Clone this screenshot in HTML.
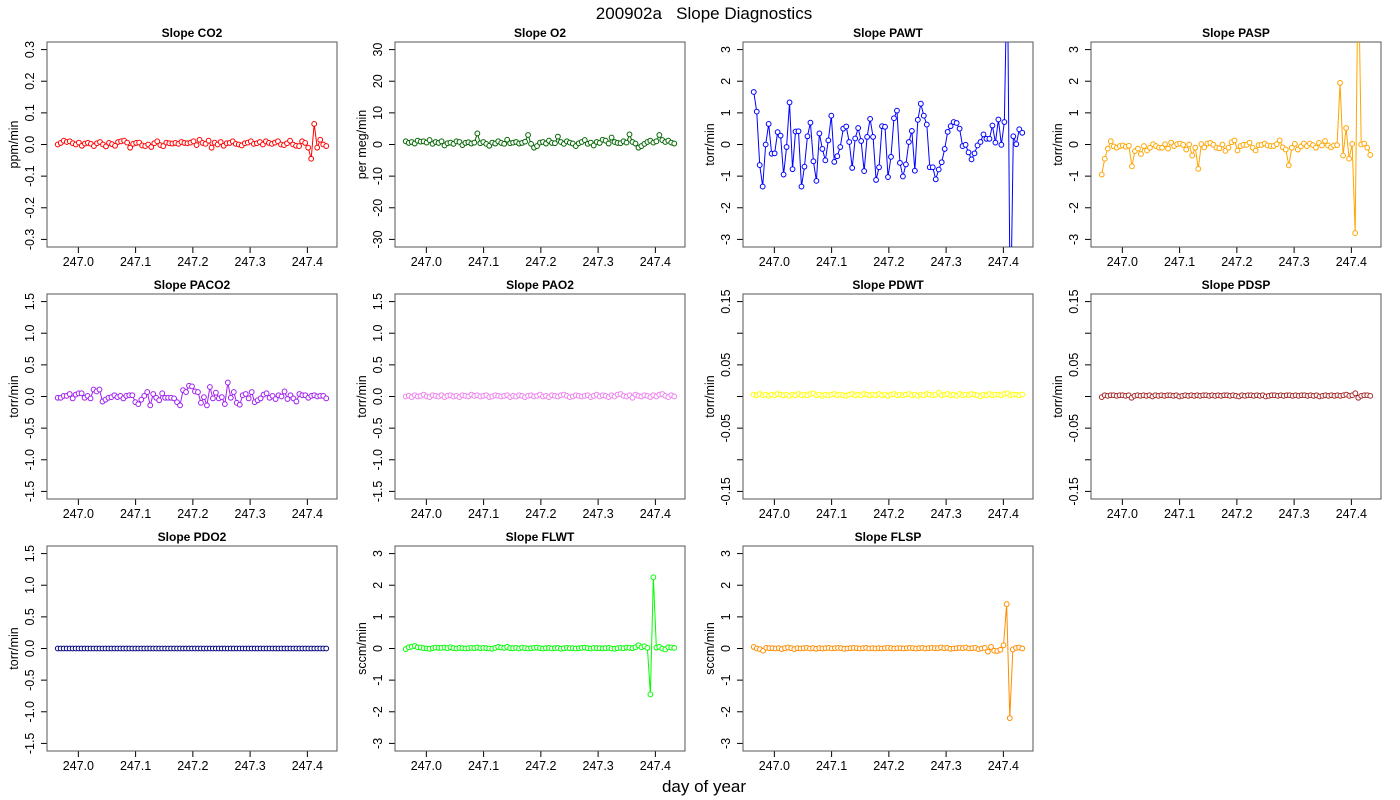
<!DOCTYPE html>
<html><head><meta charset="utf-8">
<style>
html,body{margin:0;padding:0;background:#fff;}
svg{display:block;font-family:"Liberation Sans",Arial,sans-serif;}
</style></head>
<body>
<svg id="fig" width="1400" height="800" viewBox="0 0 1400 800" xmlns="http://www.w3.org/2000/svg">
<text x="704" y="19" font-size="17" text-anchor="middle" xml:space="preserve">200902a   Slope Diagnostics</text>
<text x="704" y="792" font-size="17" text-anchor="middle">day of year</text>
</svg>
<script>
// ---- data ----
const tStart = 246.964;
const tEnd = 247.433;
const xTicks = [247.0, 247.1, 247.2, 247.3, 247.4];
const xTickLabels = ["247.0","247.1","247.2","247.3","247.4"];

const co2 = [0,0.005,0.012,0.008,0.01,0.004,0,0.006,-0.004,0.003,0.005,0.002,-0.005,0.004,0.008,0,-0.006,0.005,0.001,-0.004,0.008,0.01,0.012,0.006,-0.01,0.002,0.005,0.006,-0.003,-0.005,0,-0.008,0.004,0.01,-0.002,-0.005,0.006,0.004,0.003,0.005,0.002,0.008,0.005,0.004,0.006,0.01,-0.002,0.015,0.005,0.002,0.012,-0.01,0.006,0,0.008,-0.004,0.004,0.005,0.01,0.002,0,-0.003,0.004,0.006,0.01,0.002,0.004,0.008,0,0.01,0.005,0.002,0.006,0.01,0,-0.002,0.004,0.012,0,-0.004,-0.005,0.01,0.005,-0.01,-0.045,0.065,-0.01,0.015,0,-0.005];
const o2 = [1,0.5,0.8,0.3,1.2,0.9,1,0.6,1.4,0.2,0.8,0.5,1,-0.3,0.4,0.6,0.2,1,0.8,-0.2,0.5,0.7,0.3,0.6,3.5,0.4,0.8,0.2,-0.4,0.6,0.3,1,0.5,0.2,1.5,0.4,0.6,0.8,0.3,0.5,0.9,3,0.2,-1,-0.5,0.6,0.8,0.3,1.2,0.5,0.4,2.5,0.8,0.2,1,0.6,0.3,-0.5,0.4,0.8,1.4,0.2,0.6,-0.3,0.8,0.5,1.5,1.2,0.3,2.2,0.8,0.5,0.4,1,0.6,3.2,0.8,0.3,-1,-0.5,0.2,0.8,1.2,0.6,1,3,1.4,0.8,1.2,0.6,0.3];
const pawt = [1.66,1.04,-0.65,-1.33,0,0.65,-0.29,-0.28,0.39,0.28,-0.95,-0.08,1.33,-0.78,0.41,0.42,-1.33,-0.7,0.26,0.69,-0.53,-1.15,0.35,-0.14,-0.5,0.13,0.91,-0.55,-0.37,-0.08,0.5,0.57,0.08,-0.74,0.19,0.52,0.11,-0.84,0.24,0.81,0.24,-1.12,-0.72,0.58,0.56,-1.03,-0.39,0.83,1.07,-0.58,-1.01,-0.63,0.08,0.43,-0.83,0.78,1.29,0.91,0.63,-0.72,-0.72,-1.1,-0.79,-0.56,-0.14,0.4,0.58,0.71,0.68,0.5,-0.05,-0.01,-0.25,-0.47,-0.28,-0.03,0.08,0.32,0.18,0.18,0.6,0.06,0.79,-0.01,0.71,6,-6,0.26,0.01,0.48,0.37];
const pasp = [-0.95,-0.45,-0.13,0.1,-0.06,-0.1,-0.05,-0.03,-0.07,-0.04,-0.69,-0.21,-0.13,-0.3,-0.05,-0.19,-0.1,0.01,-0.05,-0.1,-0.1,0.01,-0.13,0.06,-0.05,0.01,0.03,-0.01,-0.16,0,-0.35,-0.1,-0.77,0.01,-0.09,0.03,0.05,-0.01,-0.1,-0.12,0,-0.2,-0.1,0.07,0.13,-0.19,-0.05,-0.01,-0.01,0.06,-0.1,-0.19,-0.02,-0.01,0.03,-0.03,-0.05,-0.05,0.01,0.13,-0.09,-0.16,-0.66,-0.1,0.02,-0.16,-0.06,0.03,-0.05,0.03,-0.02,-0.1,0.05,-0.03,0.11,-0.03,-0.09,-0.03,-0.02,1.95,-0.35,0.52,-0.45,0.02,-2.8,6,0.0,0.03,-0.1,-0.33];
const paco2 = [-0.02,-0.02,0.01,0.01,0.04,-0.03,0.03,0.05,0.05,-0.02,0.01,-0.03,0.11,0.08,0.11,-0.08,-0.05,-0.02,-0.01,0.02,-0.01,0.01,-0.03,0.01,0.02,0.02,-0.09,-0.12,-0.05,0.01,0.07,-0.14,0.04,-0.02,-0.06,0.05,-0.02,-0.02,-0.02,-0.03,-0.09,-0.14,0.1,0.07,0.17,0.16,0.08,0.07,-0.1,-0.01,-0.14,0.15,-0.03,0.06,-0.03,-0.01,-0.12,0.22,-0.02,0.07,-0.1,-0.13,0.02,0.04,-0.03,0.07,-0.09,-0.06,-0.03,0.03,0.05,-0.02,0.01,-0.04,0.02,0,0.08,-0.04,0.02,-0.03,-0.08,0.04,0.02,0.02,-0.02,0.01,0.02,0,0.01,0.01,-0.03];
const pao2 = [0,0.01,-0.01,0.02,0,0.01,0.03,0,-0.01,0.02,0.01,0,0.02,-0.01,0.01,0.02,0,0.01,-0.01,0.02,0.01,0,0.03,0.01,0.02,0,0.01,0.02,-0.01,0,0.02,0.01,0,0.01,0.02,-0.01,0.01,0,0.02,0.01,-0.01,0.01,0.02,0,0.01,0.03,0,0.01,-0.01,0.02,0.01,0,0.02,0.03,0.01,-0.01,0,0.02,0.01,0,0.01,0.02,-0.01,0.01,0.03,0,0.02,0.01,-0.01,0.02,0,0.03,0.04,0.01,0,0.02,-0.02,0.03,0.01,0,0.02,0.01,-0.01,0.02,0,0.03,0.04,0.01,-0.01,0.02,0];
const pdwt = [0.003,0.002,0.004,0.002,0.003,0.001,0.003,0.002,0.004,0.003,0.002,0.003,0.001,0.003,0.002,0.004,0.002,0.003,0.002,0.004,0.005,0.002,0.003,0.001,0.003,0.002,0.003,0.004,0.002,0.003,0.002,0.001,0.003,0.004,0.002,0.003,0.002,0.004,0.003,0.002,0.003,0.002,0.004,0.002,0.003,0.001,0.003,0.004,0.002,0.003,0.002,0.003,0.004,0.002,0.003,0.001,0.003,0.002,0.004,0.003,0.002,0.003,0.006,0.002,0.003,0.004,0.002,0.003,0.001,0.004,0.002,0.003,0.002,0.004,0.003,0.002,0,0.003,0.002,0.004,0.002,0.003,0.003,0.002,0.004,0.005,0.002,0.003,0.003,0.002,0.003];
const pdsp = [-0.001,0.002,0.001,0.002,0.002,0.001,0.002,0.002,0.001,0.002,-0.002,0.001,0.002,0.001,0.002,0.001,0.002,0,0.002,0.001,0.002,0.001,0.002,0.002,0.001,0.002,0,0.001,0.002,0.001,0.002,0.001,0.002,0.001,0.002,0.002,0.001,0.002,0.001,0.002,0.001,0.002,0.002,0.001,0.002,0.001,0,0.002,0.001,0.002,0.002,0.001,0.002,0.001,0.002,0,0.001,0.002,0.002,0.001,0.002,0.001,0.002,0.002,0.001,0.002,0.001,0.002,0.002,0.001,0.002,0.001,0.002,0,0.001,0.002,0.001,0.002,0.001,0.002,0.001,0.002,0.003,0.001,0.002,0.005,-0.002,0.001,0.002,0.002,0.001];
const pdo2 = new Array(91).fill(0);
const flwt = [-0.02,0.04,0.06,0.08,0.04,0.03,0.01,0,-0.01,0.01,0.03,0.02,0.02,0.03,0.01,0.04,0.01,0,0.02,0.01,0,0.01,0.02,0.01,0.03,0.01,0.02,0.01,0,-0.01,0.02,0.05,0.03,0.02,0.05,0.01,0.01,0.02,0,0.03,0.01,0,0.01,0.02,0.03,0.01,0,0.01,0.02,0,0.01,0.02,-0.01,0.01,0.02,0.01,0.01,0,0.01,0.02,0.03,0.01,0,0.02,0.01,0.01,0,0.01,0.02,0,-0.01,0.01,0.02,0.01,0.03,0.02,0.01,0.04,0.1,0.04,0.07,0.02,-1.45,2.25,0.03,0.05,0,-0.03,0.04,0.03,0.02];
const flsp = [0.05,0,-0.02,-0.07,0.02,0.01,0.01,0,0.01,-0.02,0.01,0.03,0.01,-0.02,0.01,0,0.01,0.02,0,0.01,-0.01,0.01,0,0.01,0.02,0,0.01,0.02,0.01,-0.01,0,0.01,0.02,0.01,0,0.01,0.02,0,0.01,0,0.01,0,0.01,0.02,0.01,0,0.01,0.01,0,0.01,0.02,0.01,0,0.01,0.02,0,0.01,0.02,0.01,0.01,0.03,0.01,0.02,-0.01,0,0.01,0.02,0.01,0.03,0,0.01,0.02,-0.02,0,0.02,-0.1,0.05,-0.07,-0.08,-0.04,0.1,1.4,-2.2,-0.03,0.02,0.03,0];

const titles = ["Slope CO2","Slope O2","Slope PAWT","Slope PASP","Slope PACO2","Slope PAO2","Slope PDWT","Slope PDSP","Slope PDO2","Slope FLWT","Slope FLSP"];
const units = ["ppm/min","per meg/min","torr/min","torr/min","torr/min","torr/min","torr/min","torr/min","torr/min","sccm/min","sccm/min"];
const series = [co2,o2,pawt,pasp,paco2,pao2,pdwt,pdsp,pdo2,flwt,flsp];
const colors = ["#ff0000","#006400","#0000ff","#ffa500","#a020f0","#ee82ee","#ffff00","#a52a2a","#000080","#00ff00","#ff8c00"];
const yLims = [0.3,30,3,3,1.5,1.5,0.15,0.15,1.5,3,3];
const yTickSets = [
 [-0.3,-0.2,-0.1,0,0.1,0.2,0.3],[-30,-20,-10,0,10,20,30],[-3,-2,-1,0,1,2,3],[-3,-2,-1,0,1,2,3],
 [-1.5,-1,-0.5,0,0.5,1,1.5],[-1.5,-1,-0.5,0,0.5,1,1.5],[-0.15,-0.1,-0.05,0,0.05,0.1,0.15],[-0.15,-0.1,-0.05,0,0.05,0.1,0.15],
 [-1.5,-1,-0.5,0,0.5,1,1.5],[-3,-2,-1,0,1,2,3],[-3,-2,-1,0,1,2,3]];
const yTickLabelSets = [
 ["-0.3","-0.2","-0.1","0.0","0.1","0.2","0.3"],["-30","-20","-10","0","10","20","30"],["-3","-2","-1","0","1","2","3"],["-3","-2","-1","0","1","2","3"],
 ["-1.5","-1.0","-0.5","0.0","0.5","1.0","1.5"],["-1.5","-1.0","-0.5","0.0","0.5","1.0","1.5"],["-0.15","","-0.05","","0.05","","0.15"],["-0.15","","-0.05","","0.05","","0.15"],
 ["-1.5","-1.0","-0.5","0.0","0.5","1.0","1.5"],["-3","-2","-1","0","1","2","3"],["-3","-2","-1","0","1","2","3"]];

// ---- drawing ----
const NS="http://www.w3.org/2000/svg";
const svg=document.getElementById('fig');
function mk(tag,attrs,parent){const e=document.createElementNS(NS,tag);for(const k in attrs)e.setAttribute(k,attrs[k]);(parent||svg).appendChild(e);return e;}
const colX=[47,395,743,1091], rowY=[42,294,546], W=290, H=205;
const xMin=tStart-0.04*(tEnd-tStart), xMax=tEnd+0.04*(tEnd-tStart);

series.forEach((vals,p)=>{
  const L=colX[p%4], T=rowY[Math.floor(p/4)];
  const g=mk('g',{});
  
  
  const lim=yLims[p]*1.08;
  const sx=v=>L+(v-xMin)/(xMax-xMin)*W;
  const sy=v=>T+H-(v+lim)/(2*lim)*H;
  const cid='clip'+p;
  const cp=mk('clipPath',{id:cid},g); mk('rect',{x:L,y:T,width:W,height:H},cp);
  const ttl=mk('text',{x:L+W/2,y:T-5,'font-size':12,'font-weight':'bold','text-anchor':'middle'},g);
  ttl.textContent=titles[p];
  
  
  const bot=T+H;
  mk('line',{x1:sx(xTicks[0]),x2:sx(xTicks[xTicks.length-1]),y1:bot,y2:bot,stroke:'#000','stroke-width':1},g);
  xTicks.forEach((t,i)=>{
    mk('line',{x1:sx(t),x2:sx(t),y1:bot,y2:bot+6,stroke:'#000'},g);
    const tx=mk('text',{x:sx(t),y:bot+19,'font-size':12.5,'text-anchor':'middle'},g);
    tx.textContent=xTickLabels[i];
    
    
  });
  const yt=yTickSets[p];
  mk('line',{x1:L,x2:L,y1:sy(yt[0]),y2:sy(yt[yt.length-1]),stroke:'#000'},g);
  yt.forEach((t,i)=>{
    mk('line',{x1:L-6,x2:L,y1:sy(t),y2:sy(t),stroke:'#000'},g);
    const lab=yTickLabelSets[p][i];
    if(lab){
      const ty=mk('text',{x:0,y:0,'font-size':12.5,'text-anchor':'middle',transform:`translate(${L-13},${sy(t)}) rotate(-90)`},g);
      ty.textContent=lab;
      
      
    }
  });
  const yl=mk('text',{x:0,y:0,'font-size':12.5,'text-anchor':'middle',transform:`translate(${L-29},${T+H/2}) rotate(-90)`},g);
  yl.textContent=units[p];
  
  
  mk('rect',{x:L,y:T,width:W,height:H,fill:'none',stroke:'#555','stroke-width':1},g);
  const n=vals.length;
  const tx=i=>tStart+i*(tEnd-tStart)/(n-1);
  const pts=vals.map((v,i)=>sx(tx(i)).toFixed(2)+','+sy(v).toFixed(2)).join(' ');
  const pl=mk('polyline',{points:pts,fill:'none',stroke:colors[p],'stroke-width':1,'clip-path':`url(#${cid})`},g);
  
  
  vals.forEach((v,i)=>{
    const c=mk('circle',{cx:sx(tx(i)),cy:sy(v),r:2.4,fill:'#fff',stroke:colors[p],'stroke-width':1,'clip-path':`url(#${cid})`},g);
    
    
  });
});
</script>
</body></html>
